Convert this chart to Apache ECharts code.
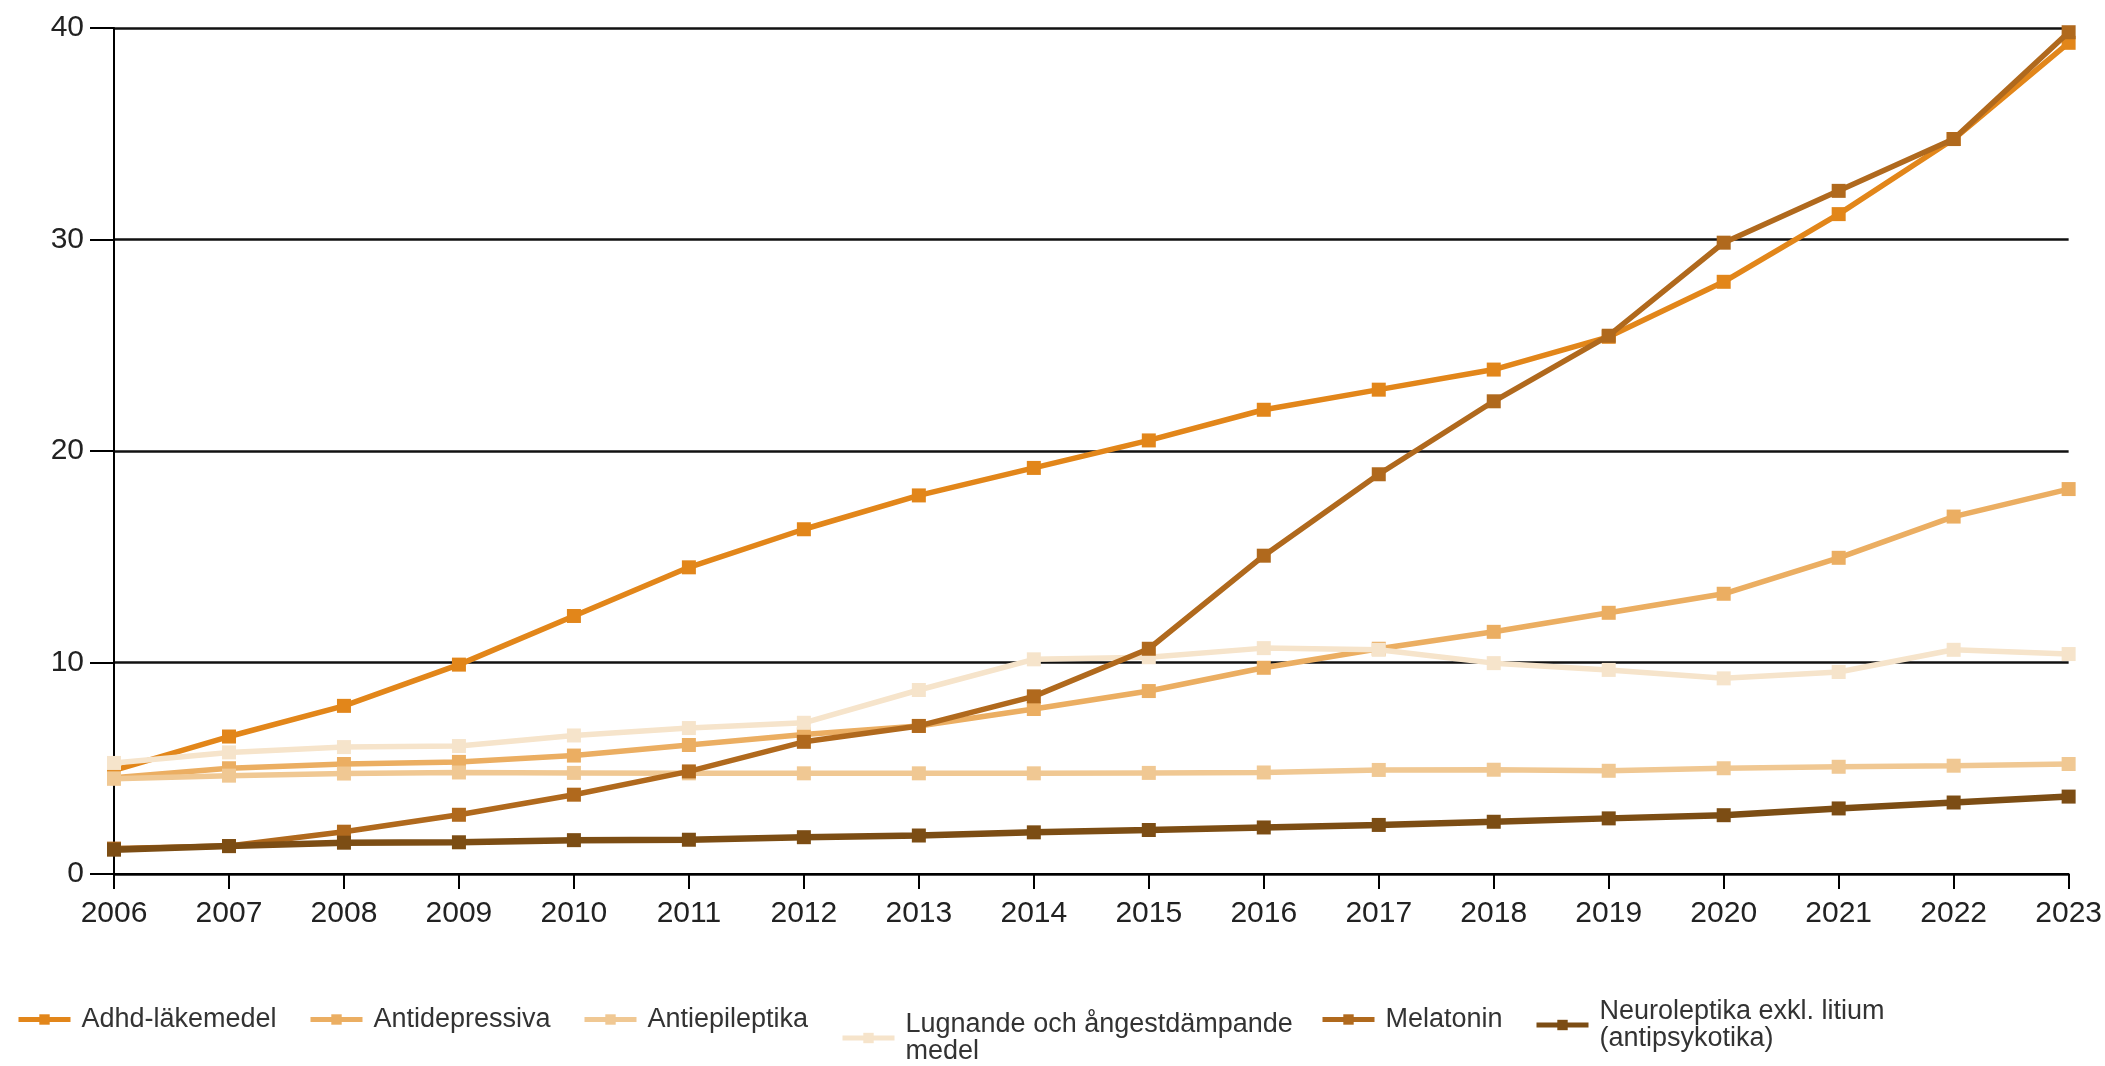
<!DOCTYPE html>
<html><head><meta charset="utf-8">
<script src="https://cdn.jsdelivr.net/npm/echarts@6/dist/echarts.min.js"></script>
<style>html,body{margin:0;padding:0;background:#fff}#c{width:2105px;height:1066px}</style>
</head><body><div id="c"></div>
<script>
const years = ['2006','2007','2008','2009','2010','2011','2012','2013','2014','2015','2016','2017','2018','2019','2020','2021','2022','2023'];
const yTicks = [0, 10, 20, 30, 40];
const seriesNames = ['Adhd-läkemedel','Antidepressiva','Antiepileptika','Lugnande och ångestdämpande medel','Melatonin','Neuroleptika exkl. litium (antipsykotika)'];
const adhd = [4.9, 6.5, 7.95, 9.9, 12.2, 14.5, 16.3, 17.9, 19.2, 20.5, 21.95, 22.9, 23.85, 25.4, 28.0, 31.2, 34.75, 39.3];
const antidepressiva = [4.55, 5.0, 5.2, 5.3, 5.6, 6.1, 6.6, 7.0, 7.8, 8.65, 9.75, 10.65, 11.45, 12.35, 13.25, 14.95, 16.9, 18.2];
const antiepileptika = [4.5, 4.65, 4.75, 4.8, 4.78, 4.76, 4.76, 4.76, 4.76, 4.78, 4.8, 4.92, 4.93, 4.88, 5.0, 5.07, 5.12, 5.2];
const lugnande = [5.25, 5.75, 6.0, 6.05, 6.55, 6.9, 7.15, 8.7, 10.15, 10.25, 10.68, 10.6, 9.97, 9.65, 9.25, 9.55, 10.6, 10.4];
const melatonin = [1.2, 1.32, 2.0, 2.8, 3.75, 4.85, 6.25, 7.0, 8.4, 10.65, 15.05, 18.9, 22.35, 25.45, 29.85, 32.3, 34.75, 39.8];
const neuroleptika = [1.15, 1.32, 1.48, 1.5, 1.6, 1.62, 1.74, 1.82, 1.97, 2.08, 2.2, 2.32, 2.47, 2.63, 2.78, 3.1, 3.38, 3.66];

const dataList = [adhd, antidepressiva, antiepileptika, lugnande, melatonin, neuroleptika];
const colors = ['#E2861A', '#EBAE62', '#F0C893', '#F6E4CB', '#B0691D', '#7C4D14'];
const lineWidths = [5.5, 5.5, 5.5, 5.5, 5.5, 6.5];
const legendLabels = ['Adhd-läkemedel','Antidepressiva','Antiepileptika','Lugnande och ångestdämpande\nmedel','Melatonin','Neuroleptika exkl. litium\n(antipsykotika)'];
const legendLeft = [16, 308, 582, 840, 1320, 1534];
const legendTop = [1006, 1006, 1006, 1011, 1006, 998];

const FONT = "'Liberation Sans', Arial, sans-serif";
const chart = echarts.init(document.getElementById('c'), null, {renderer: 'canvas'});

const legends = seriesNames.map((n, i) => ({
  data: [n],
  left: legendLeft[i],
  top: legendTop[i],
  itemWidth: 52,
  itemHeight: 13,
  padding: 0,
  selectedMode: false,
  lineStyle: {width: 5},
  formatter: () => legendLabels[i],
  textStyle: {fontFamily: FONT, fontSize: 27, color: '#333', lineHeight: 27, padding: [0, 0, 0, 6]}
}));

chart.setOption({
  animation: false,
  backgroundColor: '#fff',
  grid: {left: 114, right: 36, top: 28, bottom: 192, containLabel: false},
  legend: legends,
  xAxis: {
    type: 'category',
    data: years,
    boundaryGap: false,
    axisLine: {show: true, lineStyle: {color: '#000', width: 2}},
    axisTick: {show: true, length: 15, lineStyle: {color: '#000', width: 2}},
    axisLabel: {fontFamily: FONT, fontSize: 30, color: '#222', margin: 25},
    splitLine: {show: false}
  },
  yAxis: {
    type: 'value',
    min: 0, max: 40, interval: 10,
    axisLine: {show: true, lineStyle: {color: '#000', width: 2}},
    axisTick: {show: true, length: 24, lineStyle: {color: '#000', width: 2}},
    axisLabel: {fontFamily: FONT, fontSize: 30, color: '#222', margin: 30,
      formatter: v => yTicks.includes(v) ? String(v) : ''},
    splitLine: {show: true, lineStyle: {color: '#111', width: 2.5}}
  },
  series: seriesNames.map((n, i) => ({
    name: n,
    type: 'line',
    data: dataList[i],
    color: colors[i],
    symbol: 'rect',
    symbolSize: 14,
    showSymbol: true,
    lineStyle: {width: lineWidths[i], color: colors[i]},
    itemStyle: {color: colors[i]},
    z: 2 + i
  }))
});
</script>
</body></html>
